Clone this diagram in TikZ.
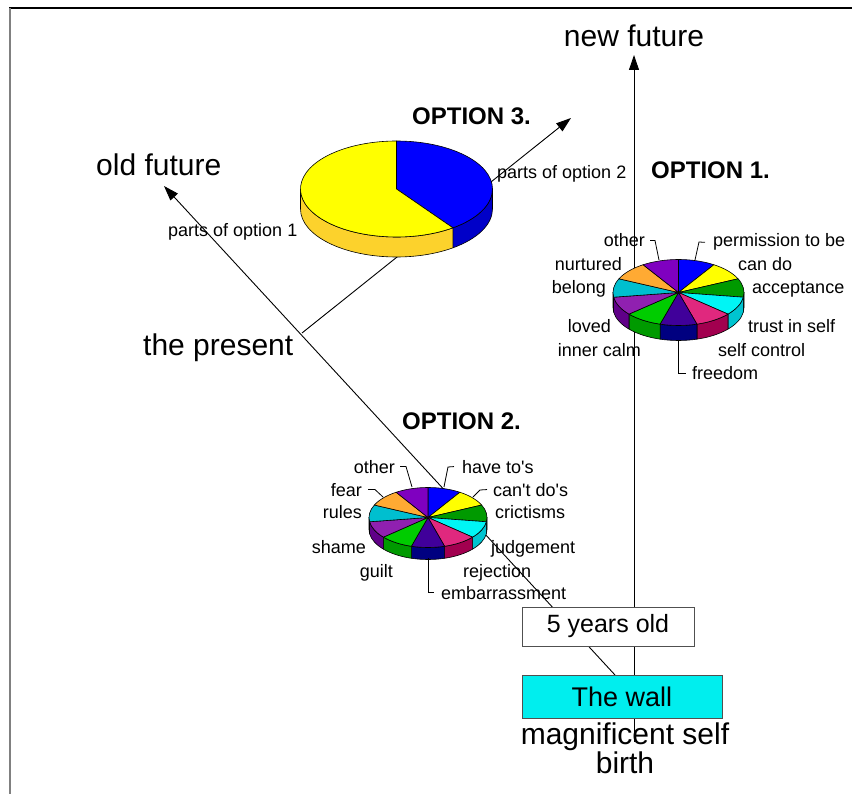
\documentclass[tikz,border=0pt]{standalone}
\usepackage{fontspec}
\setmainfont{Liberation Sans}
\usetikzlibrary{arrows.meta}

% slice colours: top face / rim
\definecolor{sBlue}{HTML}{0000FF}
\definecolor{sBlueSide}{HTML}{0000C8}
\definecolor{sYellow}{HTML}{FFFF00}
\definecolor{sGold}{HTML}{FCD22C}
\definecolor{sGreen}{HTML}{009A00}
\definecolor{sGreenSide}{HTML}{006E00}
\definecolor{sCyan}{HTML}{00F5F5}
\definecolor{sCyanSide}{HTML}{00C4D0}
\definecolor{sPink}{HTML}{E0287E}
\definecolor{sPinkSide}{HTML}{A2004F}
\definecolor{sIndigo}{HTML}{40009A}
\definecolor{sNavy}{HTML}{000080}
\definecolor{sLime}{HTML}{00CC00}
\definecolor{sLimeSide}{HTML}{009A00}
\definecolor{sPurple}{HTML}{9020B0}
\definecolor{sPurpleSide}{HTML}{600088}
\definecolor{sTeal}{HTML}{00BFCF}
\definecolor{sTealSide}{HTML}{008C99}
\definecolor{sOrange}{HTML}{FFAA33}
\definecolor{sViolet}{HTML}{7F00C0}
\definecolor{wallCyan}{HTML}{00EEEE}
\definecolor{frameGray}{HTML}{808080}
\definecolor{boxEdge}{HTML}{505050}

% eleven equal slices, clockwise from the top (angles grow clockwise on screen)
\def\wheel{-90/-57.273/sBlue/sBlueSide,
  -57.273/-24.545/sYellow/sGold,
  -24.545/8.182/sGreen/sGreenSide,
  8.182/40.909/sCyan/sCyanSide,
  40.909/73.636/sPink/sPinkSide,
  73.636/106.364/sIndigo/sNavy,
  106.364/139.091/sLime/sLimeSide,
  139.091/171.818/sPurple/sPurpleSide,
  171.818/204.545/sTeal/sTealSide,
  204.545/237.273/sOrange/sOrange,
  237.273/270/sViolet/sViolet}
% two-part pie: 40% / 60%
\def\halves{-90/54/sBlue/sBlueSide, 54/270/sYellow/sGold}

% #1,#2 centre; #3,#4 radii; #5 rim depth; #6 slice list
\newcommand\threedpie[6]{%
  \foreach \ta/\tb/\ctop/\crim in #6{%
    \pgfmathsetmacro\ra{max(\ta,0)}%
    \pgfmathsetmacro\rb{min(\tb,180)}%
    \ifdim\ra pt<\rb pt
      \filldraw[piece, fill=\crim] (#1,#2) ++(\ra:#3 and #4)
        arc[start angle=\ra, end angle=\rb, x radius=#3, y radius=#4]
        -- ++(0,#5)
        arc[start angle=\rb, end angle=\ra, x radius=#3, y radius=#4] -- cycle;
    \fi
  }%
  \foreach \ta/\tb/\ctop/\crim in #6{%
    \filldraw[piece, fill=\ctop] (#1,#2) -- ++(\ta:#3 and #4)
      arc[start angle=\ta, end angle=\tb, x radius=#3, y radius=#4] -- cycle;
  }%
}

\tikzset{
  piece/.style={draw=black, line width=0.6pt, line join=round},
  link/.style={draw=black, line width=0.9pt},
  arrowlink/.style={link, -{Triangle[length=15pt, width=10pt]}},
  leader/.style={draw=black, line width=0.8pt},
  lbl/.style={inner sep=0pt, font=\fontsize{18}{21}\selectfont},
  big/.style={inner sep=0pt, font=\fontsize{30}{34}\selectfont},
  opt/.style={inner sep=0pt, font=\bfseries\fontsize{24}{28}\selectfont},
  agebox/.style={draw=boxEdge, line width=0.9pt, fill=white, minimum width=172pt,
    minimum height=39pt, inner sep=0pt, font=\fontsize{25}{28}\selectfont},
  wallbox/.style={draw=boxEdge, line width=0.9pt, fill=wallCyan, minimum width=200pt,
    minimum height=43pt, inner sep=0pt, font=\fontsize{27}{30}\selectfont},
}

\begin{document}
\begin{tikzpicture}[x=1pt, y=-1pt]
\useasboundingbox (0,0) rectangle (852,794);

% frame
\draw[black, line width=1.4pt] (9,8) -- (852,8);
\draw[frameGray, line width=1.8pt] (10,8) -- (10,794);

% end points of the time lines
\coordinate (newTip) at (634,55);
\coordinate (selfRoot) at (634,742);
\coordinate (wallJoin) at (615,675);
\coordinate (oldTip) at (164,186);
\coordinate (presentJoin) at (302,333);
\coordinate (opt3Tip) at (571,118);

\draw[arrowlink] (selfRoot) -- (newTip);
\draw[arrowlink] (wallJoin) -- (oldTip);
\draw[arrowlink] (presentJoin) -- (opt3Tip);

% pies
\threedpie{396.5}{189}{96}{48}{20}{\halves}
\threedpie{678.5}{292.5}{65.5}{33}{15}{\wheel}
\threedpie{428}{517.5}{59}{30}{12}{\wheel}

% headings and time labels
\node[big, anchor=base] (newFuture) at (634,47) {new future};
\node[big, anchor=base west] (oldFuture) at (96,176) {old future};
\node[big, anchor=base west] (present) at (143,356) {the present};
\node[opt, anchor=base west] (opt3) at (412,125) {OPTION 3.};
\node[opt, anchor=base west] (opt1) at (651,179) {OPTION 1.};
\node[opt, anchor=base west] (opt2) at (402,429) {OPTION 2.};
\node[lbl, anchor=base west] (parts2) at (497,179) {parts of option 2};
\node[lbl, anchor=base west] (parts1) at (168,237) {parts of option 1};

% option 1 slice labels
\node[lbl, anchor=base east] (aOther) at (645,247) {other};
\node[lbl, anchor=base west] (aPerm) at (713,247) {permission to be};
\node[lbl, anchor=base west] (aCan) at (738,271) {can do};
\node[lbl, anchor=base west] (aAcc) at (752,294) {acceptance};
\node[lbl, anchor=base west] (aTrust) at (748,333) {trust in self};
\node[lbl, anchor=base west] (aSelf) at (718,357) {self control};
\node[lbl, anchor=base west] (aFree) at (692,380) {freedom};
\node[lbl, anchor=base east] (aCalm) at (641,357) {inner calm};
\node[lbl, anchor=base east] (aLoved) at (611,333) {loved};
\node[lbl, anchor=base east] (aBelong) at (606,294) {belong};
\node[lbl, anchor=base east] (aNurt) at (622,271) {nurtured};

\coordinate (aOtherRim) at (659,260);
\coordinate (aPermRim) at (695,260);
\coordinate (aFreeRim) at (678.5,340);
\draw[leader] ([xshift=5pt]aOther.east) -- ++(5,0) -- (aOtherRim);
\draw[leader] (aPermRim) -- (699,242) -- ([xshift=-8pt]aPerm.west);
\draw[leader] (aFreeRim) -- (aFreeRim |- aFree.west) -- ([xshift=-6pt]aFree.west);

% option 2 slice labels
\node[lbl, anchor=base east] (bOther) at (395,473) {other};
\node[lbl, anchor=base west] (bHave) at (462,473) {have to\textquotesingle s};
\node[lbl, anchor=base west] (bCant) at (493,496) {can\textquotesingle t do\textquotesingle s};
\node[lbl, anchor=base east] (bFear) at (362,496) {fear};
\node[lbl, anchor=base east] (bRules) at (362,518) {rules};
\node[lbl, anchor=base west] (bCrit) at (495,518) {crictisms};
\node[lbl, anchor=base east] (bShame) at (366,553) {shame};
\node[lbl, anchor=base west] (bJudge) at (491,553) {judgement};
\node[lbl, anchor=base east] (bGuilt) at (393,577) {guilt};
\node[lbl, anchor=base west] (bReject) at (463,577) {rejection};
\node[lbl, anchor=base west] (bEmb) at (441,599) {embarrassment};

\coordinate (bOtherRim) at (412,487);
\coordinate (bHaveRim) at (444,487);
\coordinate (bCantRim) at (473,497);
\coordinate (bFearRim) at (383,497);
\coordinate (bEmbRim) at (428,558);
\draw[leader] ([xshift=5pt]bOther.east) -- ++(6,0) -- (bOtherRim);
\draw[leader] (bHaveRim) -- (448,467) -- ([xshift=-8pt]bHave.west);
\draw[leader] (bCantRim) -- (480,490) -- ([xshift=-6pt]bCant.west);
\draw[leader] ([xshift=6pt]bFear.east) -- ++(7,0) -- (bFearRim);
\draw[leader] (bEmbRim) -- (bEmbRim |- bEmb.west) -- ([xshift=-7pt]bEmb.west);

% age and wall boxes
\node[agebox] (age) at (608,626.5) {5 years old};
\node[wallbox] (wall) at (622,696.5) {The wall};
\node[big, align=center, font=\fontsize{30}{25}\selectfont, anchor=south]
  (selfText) at (625,774) {magnificent self\\birth};
\end{tikzpicture}
\end{document}
